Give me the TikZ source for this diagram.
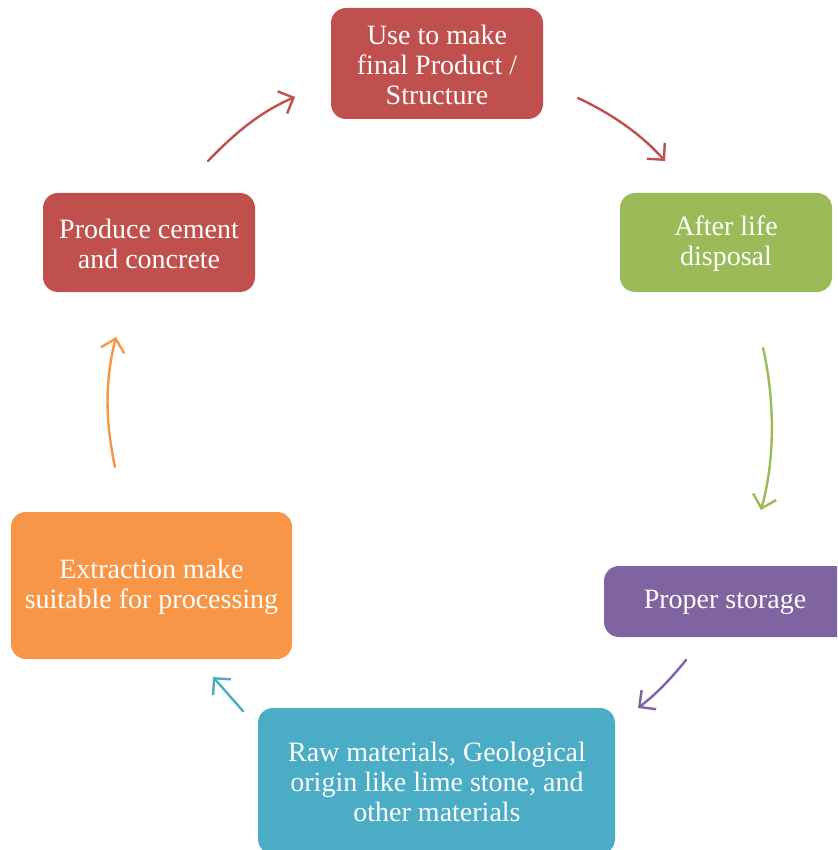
\documentclass[tikz,border=0pt]{standalone}
\usepackage{fontspec}
\setmainfont{Liberation Serif}
\usetikzlibrary{arrows.meta}
\definecolor{cred}{HTML}{C0504D}
\definecolor{cgreen}{HTML}{9BBB59}
\definecolor{cpurple}{HTML}{8064A2}
\definecolor{cteal}{HTML}{4BACC6}
\definecolor{corange}{HTML}{F79646}
\tikzset{
  cyclebox/.style={rounded corners=15pt, text=white, align=center,
    font=\fontsize{28}{30}\selectfont, inner sep=0pt},
  boxtext/.style={text=white, align=center, font=\fontsize{28}{30}\selectfont, inner sep=0pt},
  cyclearrow/.style={line width=2.4pt, line cap=round,
    -{Straight Barb[length=12pt,width=24pt,line width=2.4pt]}}
}
\begin{document}
\begin{tikzpicture}[x=1pt,y=-1pt]
\useasboundingbox (0,0) rectangle (837,850);
\begin{scope}
\clip (0,0) rectangle (837,850);
\node[cyclebox, fill=cred, minimum width=212pt, minimum height=111pt] (use) at (437,63.5) {};
\node[boxtext] (uset) at (437,64.5) {Use to make\\final Product /\\Structure};
\node[cyclebox, fill=cgreen, minimum width=212pt, minimum height=99pt] (after) at (726,242.5) {};
\node[boxtext] (aftert) at (726,244) {After life\\disposal};
\node[cyclebox, fill=cpurple, minimum width=260pt, minimum height=71pt] (proper) at (734,601.5) {};
\node[boxtext] (propert) at (725,602) {Proper storage};
\node[cyclebox, fill=cteal, minimum width=357pt, minimum height=146pt] (raw) at (436.5,781) {};
\node[boxtext] (rawt) at (437,782) {Raw materials, Geological\\origin like lime stone, and\\other materials};
\node[cyclebox, fill=corange, minimum width=281pt, minimum height=147pt] (extr) at (151.5,585.5) {};
\node[boxtext] (extrt) at (151.5,587) {Extraction make\\suitable for processing};
\node[cyclebox, fill=cred, minimum width=212pt, minimum height=99pt] (prod) at (149,242.5) {};
\node[boxtext] (prodt) at (149,244) {Produce cement\\and concrete};
\end{scope}
\coordinate (a1s) at (208,161); \coordinate (a1e) at (295,97);
\coordinate (a2s) at (578,98); \coordinate (a2e) at (665,161);
\coordinate (a3s) at (763,348); \coordinate (a3e) at (761,510);
\coordinate (a4s) at (686,660); \coordinate (a4e) at (638,708);
\coordinate (a5s) at (243,711); \coordinate (a5e) at (213,677);
\coordinate (a6s) at (115,467); \coordinate (a6e) at (116,337);
\draw[cyclearrow, draw=cred] (a1s) .. controls (235,133) and (260,112) .. (a1e);
\draw[cyclearrow, draw=cred] (a2s) .. controls (610,113) and (640,133) .. (a2e);
\draw[cyclearrow, draw=cgreen] (a3s) .. controls (775,400) and (775,460) .. (a3e);
\draw[cyclearrow, draw=cpurple] (a4s) .. controls (670,680) and (655,695) .. (a4e);
\draw[cyclearrow, draw=cteal] (a5s) -- (a5e);
\draw[cyclearrow, draw=corange] (a6s) .. controls (105,420) and (105,380) .. (a6e);
\end{tikzpicture}
\end{document}
